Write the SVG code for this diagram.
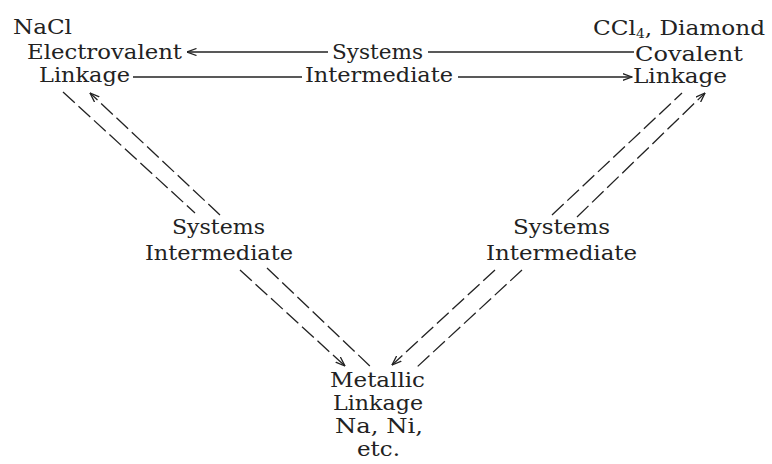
<svg xmlns="http://www.w3.org/2000/svg" width="772" height="464" viewBox="0 0 772 464">
<style>
text{font-family:"DejaVu Serif","Liberation Serif",serif;font-size:20px;fill:#222}
.ln{stroke:#222;stroke-width:1.3;fill:none}
.ds{stroke:#222;stroke-width:1.3;fill:none;stroke-dasharray:16 5}
</style>
<defs>
<marker id="ah" viewBox="0 0 10 8" refX="9.5" refY="4" markerWidth="10" markerHeight="8" markerUnits="userSpaceOnUse" orient="auto">
<path d="M0,0.5 L9.5,4 L0,7.5" fill="none" stroke="#222" stroke-width="1.3"/>
</marker>
</defs>
<g id="connectors">
<line class="ln" x1="328" y1="52" x2="187" y2="52" marker-end="url(#ah)"/>
<line class="ln" x1="428" y1="52" x2="634" y2="52"/>
<line class="ln" x1="133" y1="77" x2="302" y2="77"/>
<line class="ln" x1="458" y1="77" x2="632" y2="77" marker-end="url(#ah)"/>
<line class="ds" x1="63" y1="92" x2="195" y2="213"/>
<line class="ds" x1="220" y1="215" x2="90" y2="93" marker-end="url(#ah)"/>
<line class="ds" x1="240" y1="270" x2="345" y2="366" marker-end="url(#ah)"/>
<line class="ds" x1="267" y1="268" x2="372" y2="368"/>
<line class="ds" x1="552" y1="215" x2="682" y2="93"/>
<line class="ds" x1="577" y1="217" x2="705" y2="93" marker-end="url(#ah)"/>
<line class="ds" x1="495" y1="270" x2="392" y2="365" marker-end="url(#ah)"/>
<line class="ds" x1="522" y1="270" x2="417" y2="367"/>
</g>
<g id="electrovalent">
<text x="13" y="34" textLength="59" lengthAdjust="spacingAndGlyphs">NaCl</text>
<text x="27" y="59" textLength="155" lengthAdjust="spacingAndGlyphs">Electrovalent</text>
<text x="39" y="82" textLength="91" lengthAdjust="spacingAndGlyphs">Linkage</text>
</g>
<g id="covalent">
<text x="593" y="35" textLength="172" lengthAdjust="spacingAndGlyphs">CCl<tspan font-size="12" dy="3">4</tspan><tspan dy="-3">, Diamond</tspan></text>
<text x="635" y="61" textLength="108" lengthAdjust="spacingAndGlyphs">Covalent</text>
<text x="633" y="83" textLength="94" lengthAdjust="spacingAndGlyphs">Linkage</text>
</g>
<g id="top-intermediate">
<text x="332" y="59" textLength="91" lengthAdjust="spacingAndGlyphs">Systems</text>
<text x="305" y="82" textLength="148" lengthAdjust="spacingAndGlyphs">Intermediate</text>
</g>
<g id="left-intermediate">
<text x="172" y="234" textLength="93" lengthAdjust="spacingAndGlyphs">Systems</text>
<text x="145" y="260" textLength="148" lengthAdjust="spacingAndGlyphs">Intermediate</text>
</g>
<g id="right-intermediate">
<text x="513" y="234" textLength="97" lengthAdjust="spacingAndGlyphs">Systems</text>
<text x="486" y="260" textLength="151" lengthAdjust="spacingAndGlyphs">Intermediate</text>
</g>
<g id="metallic">
<text x="330" y="387" textLength="95" lengthAdjust="spacingAndGlyphs">Metallic</text>
<text x="333" y="410" textLength="90" lengthAdjust="spacingAndGlyphs">Linkage</text>
<text x="335" y="433" textLength="88" lengthAdjust="spacingAndGlyphs">Na, Ni,</text>
<text x="357" y="456" textLength="43" lengthAdjust="spacingAndGlyphs">etc.</text>
</g>
</svg>
